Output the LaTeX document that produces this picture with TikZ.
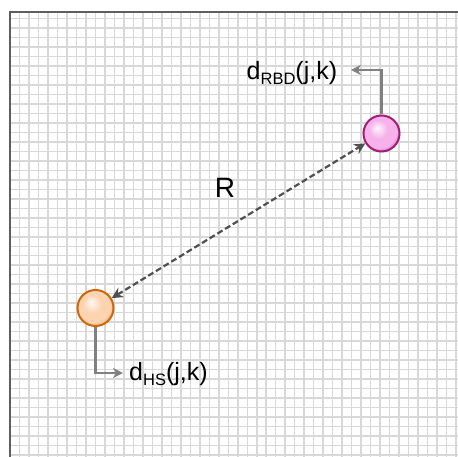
\documentclass[tikz,border=0pt]{standalone}
\usepackage{fontspec}
\setmainfont{Liberation Sans}
\usetikzlibrary{arrows.meta}
\definecolor{gridc}{HTML}{D8D8D8}
\definecolor{framec}{HTML}{5F5F5F}
\definecolor{pinkc}{HTML}{F7B2EC}
\definecolor{pinkd}{HTML}{9E1F74}
\definecolor{orc}{HTML}{FDD3B0}
\definecolor{ord}{HTML}{C9680C}
\definecolor{arrc}{HTML}{505050}
\definecolor{elbc}{HTML}{808080}
\pgfdeclareradialshading{pinkball}{\pgfpoint{-6bp}{8bp}}{color(0bp)=(white!90!pinkc); color(4bp)=(white!60!pinkc); color(13bp)=(pinkc); color(24bp)=(pinkc); color(31bp)=(pinkd!60!pinkc); color(36bp)=(pinkd); color(50bp)=(pinkd)}
\pgfdeclareradialshading{orball}{\pgfpoint{-6bp}{8bp}}{color(0bp)=(white!90!orc); color(4bp)=(white!60!orc); color(13bp)=(orc); color(24bp)=(orc); color(31bp)=(ord!50!orc); color(36bp)=(ord); color(50bp)=(ord)}
\tikzset{
  gridl/.style={gridc, line width=1.5pt},
  ball/.style={circle, minimum size=36pt, inner sep=0pt, line width=2pt},
  dasharrow/.style={arrc, line width=2.2pt, dash pattern=on 6pt off 3pt,
    {Stealth[length=11pt,width=11pt]}-{Stealth[length=11pt,width=11pt]}},
  elb/.style={elbc, line width=2.4pt, -{Stealth[length=10pt,width=10pt]}},
  lab/.style={inner sep=0pt, font=\fontsize{25}{25}\selectfont},
}
\newcommand{\mysub}[1]{{\fontsize{16.5}{16.5}\selectfont\raisebox{-5pt}{#1}}}
\begin{document}
\begin{tikzpicture}[x=1pt,y=-1pt]
\useasboundingbox (0,0) rectangle (458,457);
\fill[white] (0,0) rectangle (458,457);
\foreach \i in {0,...,46} {
  \draw[gridl] ({19.5+9.49*\i},12.5) -- ({19.5+9.49*\i},457);
  \draw[gridl] (10,{18.5+9.49*\i}) -- (458,{18.5+9.49*\i});
}
\draw[framec, line width=2pt] (10,457) -- (10,12.5) -- (458,12.5);

\node[ball, shading=pinkball, draw=pinkd] (rbd) at (381.5,133.5) {};
\node[ball, shading=orball, draw=ord] (hs) at (95.5,308) {};

\draw[dasharrow] (hs) -- (rbd);

\node[font=\fontsize{28}{28}\selectfont, inner sep=0pt] (rlab) at (225,188.3) {R};

\node[lab, anchor=base west] (rbdlab) at (246.5,79.3) {d\mysub{RBD}(j,k)};
\node[lab, anchor=base west] (hslab) at (129,380) {d\mysub{HS}(j,k)};

\coordinate (rbdend) at (351,70);
\coordinate (hsend) at (123,373);
\draw[elb] (rbd.north) |- (rbdend);
\draw[elb] (hs.south) |- (hsend);
\end{tikzpicture}
\end{document}
